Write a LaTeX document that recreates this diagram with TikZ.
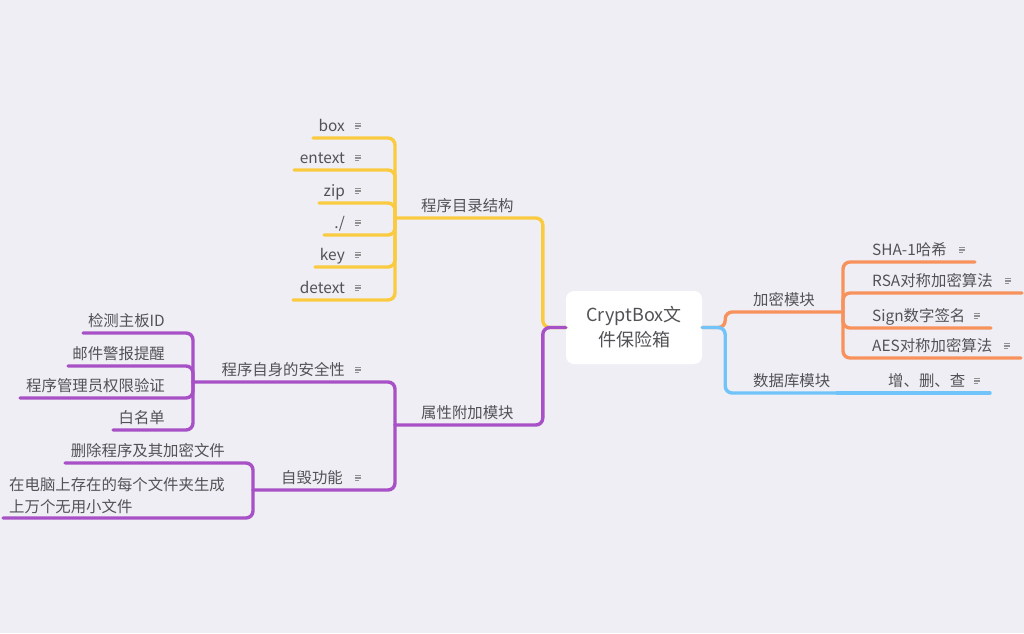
\documentclass[tikz,border=0pt]{standalone}
\usepackage{fontspec}
\setmainfont{Noto Sans CJK SC}
\usetikzlibrary{positioning}
\definecolor{bg}{RGB}{239,238,244}
\definecolor{ylw}{RGB}{250,202,64}
\definecolor{prp}{RGB}{168,80,198}
\definecolor{org}{RGB}{247,146,92}
\definecolor{blu}{RGB}{112,196,250}
\definecolor{txt}{RGB}{82,82,86}
\definecolor{ico}{RGB}{145,145,145}
\tikzset{
  lbl/.style={inner sep=0pt, text=txt, font=\fontsize{15.4}{22}\selectfont},
  branch/.style={line width=3.4pt, rounded corners=7pt, line cap=round},
  rootbox/.style={fill=white, rounded corners=8pt, minimum width=136pt, minimum height=73pt,
    align=center, text=txt, font=\fontsize{18}{25}\selectfont},
  noteicon/.pic={\draw[ico, line width=1.1pt] (-3,-2.5) -- (3,-2.5) (-3,0) -- (3,0) (-3,2.5) -- (1,2.5);}
}

\begin{document}
\begin{tikzpicture}[x=1pt, y=-1pt]
\useasboundingbox[fill=bg] (0,0) rectangle (1024,633);

\node[rootbox] (root) at (634,327.5) {CryptBox文\\件保险箱};

\coordinate (dirJ) at (395,218);
\coordinate (extJ) at (395,425);
\coordinate (encJ) at (843,312);
\coordinate (dbJ) at (837,393);
\coordinate (safeJ) at (193,382);
\coordinate (killJ) at (253,490);

\draw[branch, ylw] (root.west) -- ++(-23,0) |- (dirJ);
\draw[branch, prp] (root.west) -- ++(-23,0) |- (extJ);
\draw[branch, org] (root.east) -- ++(23,0) |- (encJ);
\draw[branch, blu] (root.east) -- ++(23,0) |- (dbJ);

\node[lbl, anchor=base west] (dir) at (421,211.5) {程序目录结构};
\node[lbl, anchor=base west] (ext) at (421,418.5) {属性附加模块};
\node[lbl, anchor=base west] (enc) at (753,305.5) {加密模块};
\node[lbl, anchor=base west] (db) at (753,386.5) {数据库模块};

\foreach \nm/\t/\y/\x in {box/box/138/313, entext/entext/170/294, zip/zip/203/319,
    cur/{./}/235/324, key/key/267/315, detext/detext/300/293}{
  \coordinate (\nm E) at (\x,\y);
  \draw[branch, ylw] (dirJ) |- (\nm E);
  \node[lbl, anchor=base east] (\nm) at (345,\y-6.5) {\t};
  \pic at (358,\y-12) {noteicon};
}

\draw[branch, prp] (extJ) |- (safeJ);
\draw[branch, prp] (extJ) |- (killJ);
\node[lbl, anchor=base east] (safe) at (345,375.5) {程序自身的安全性};
\pic at (358,370) {noteicon};
\node[lbl, anchor=base east] (kill) at (343,483.5) {自毁功能};
\pic at (358,478) {noteicon};

\foreach \nm/\t/\y/\x in {board/检测主板ID/333/83, mail/邮件警报提醒/366/68,
    admin/程序管理员权限验证/398/20, white/白名单/430/113}{
  \coordinate (\nm E) at (\x,\y);
  \draw[branch, prp] (safeJ) |- (\nm E);
  \node[lbl, anchor=base east] (\nm) at (165,\y-6.5) {\t};
}

\coordinate (delE) at (65,463);
\coordinate (junkE) at (3,518);
\draw[branch, prp] (killJ) |- (delE);
\draw[branch, prp] (killJ) |- (junkE);
\node[lbl, anchor=base east] (del) at (225,456.5) {删除程序及其加密文件};
\node[lbl, anchor=south west, align=left] (junk) at (9,514) {在电脑上存在的每个文件夹生成\\上万个无用小文件};

\foreach \nm/\t/\y/\x/\ix in {sha/SHA-1哈希/262/975/962, rsa/RSA对称加密算法/293/1022/1008,
    sign/Sign数字签名/328/991/977, aes/AES对称加密算法/358/1021/1007}{
  \coordinate (\nm E) at (\x,\y);
  \draw[branch, org] (encJ) |- (\nm E);
  \node[lbl, anchor=base west] (\nm) at (872,\y-6.5) {\t};
  \pic at (\ix,\y-12) {noteicon};
}

\coordinate (crudE) at (990,393);
\draw[branch, blu] (dbJ) -- (crudE);
\node[lbl, anchor=base west] (crud) at (888,386.5) {增、删、查};
\pic at (977,381) {noteicon};
\end{tikzpicture}
\end{document}
